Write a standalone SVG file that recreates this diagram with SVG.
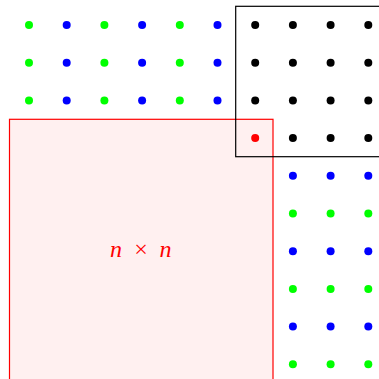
<svg xmlns="http://www.w3.org/2000/svg" width="379" height="379" viewBox="0 0 379 379">
<style>
.g{fill:#00ff00}.b{fill:#0000ff}.k{fill:#000}.r{fill:#ff0000}
.lbl{font-family:"Liberation Serif","DejaVu Serif",serif;font-size:24px;fill:#ff0000}
</style>
<rect width="379" height="379" fill="#fff"/>
<g id="square">
<rect x="9.5" y="119.3" width="263.5" height="270" fill="#fff0f0" stroke="#ff0000" stroke-width="1.2"/>
<text class="lbl" y="257" text-anchor="middle"><tspan x="116" font-style="italic">n</tspan><tspan x="141">×</tspan><tspan x="165.5" font-style="italic">n</tspan></text>
</g>
<g id="box">
<rect x="235.7" y="6.3" width="160" height="150.4" fill="none" stroke="#000" stroke-width="1.2"/>
</g>
<g id="dots">
<g id="top-left">
<circle class="g" cx="29" cy="25" r="4"/><circle class="b" cx="66.7" cy="25" r="4"/><circle class="g" cx="104.4" cy="25" r="4"/><circle class="b" cx="142.1" cy="25" r="4"/><circle class="g" cx="179.8" cy="25" r="4"/><circle class="b" cx="217.5" cy="25" r="4"/>
<circle class="g" cx="29" cy="62.7" r="4"/><circle class="b" cx="66.7" cy="62.7" r="4"/><circle class="g" cx="104.4" cy="62.7" r="4"/><circle class="b" cx="142.1" cy="62.7" r="4"/><circle class="g" cx="179.8" cy="62.7" r="4"/><circle class="b" cx="217.5" cy="62.7" r="4"/>
<circle class="g" cx="29" cy="100.4" r="4"/><circle class="b" cx="66.7" cy="100.4" r="4"/><circle class="g" cx="104.4" cy="100.4" r="4"/><circle class="b" cx="142.1" cy="100.4" r="4"/><circle class="g" cx="179.8" cy="100.4" r="4"/><circle class="b" cx="217.5" cy="100.4" r="4"/>
</g>
<g id="top-right">
<circle class="k" cx="255.2" cy="25" r="4"/><circle class="k" cx="292.9" cy="25" r="4"/><circle class="k" cx="330.6" cy="25" r="4"/><circle class="k" cx="368.3" cy="25" r="4"/>
<circle class="k" cx="255.2" cy="62.7" r="4"/><circle class="k" cx="292.9" cy="62.7" r="4"/><circle class="k" cx="330.6" cy="62.7" r="4"/><circle class="k" cx="368.3" cy="62.7" r="4"/>
<circle class="k" cx="255.2" cy="100.4" r="4"/><circle class="k" cx="292.9" cy="100.4" r="4"/><circle class="k" cx="330.6" cy="100.4" r="4"/><circle class="k" cx="368.3" cy="100.4" r="4"/>
<circle class="r" cx="255.2" cy="138.1" r="4"/><circle class="k" cx="292.9" cy="138.1" r="4"/><circle class="k" cx="330.6" cy="138.1" r="4"/><circle class="k" cx="368.3" cy="138.1" r="4"/>
</g>
<g id="bottom-right">
<circle class="b" cx="292.9" cy="175.8" r="4"/><circle class="b" cx="330.6" cy="175.8" r="4"/><circle class="b" cx="368.3" cy="175.8" r="4"/>
<circle class="g" cx="292.9" cy="213.5" r="4"/><circle class="g" cx="330.6" cy="213.5" r="4"/><circle class="g" cx="368.3" cy="213.5" r="4"/>
<circle class="b" cx="292.9" cy="251.2" r="4"/><circle class="b" cx="330.6" cy="251.2" r="4"/><circle class="b" cx="368.3" cy="251.2" r="4"/>
<circle class="g" cx="292.9" cy="288.9" r="4"/><circle class="g" cx="330.6" cy="288.9" r="4"/><circle class="g" cx="368.3" cy="288.9" r="4"/>
<circle class="b" cx="292.9" cy="326.6" r="4"/><circle class="b" cx="330.6" cy="326.6" r="4"/><circle class="b" cx="368.3" cy="326.6" r="4"/>
<circle class="g" cx="292.9" cy="364.3" r="4"/><circle class="g" cx="330.6" cy="364.3" r="4"/><circle class="g" cx="368.3" cy="364.3" r="4"/>
</g>
</g>
</svg>
